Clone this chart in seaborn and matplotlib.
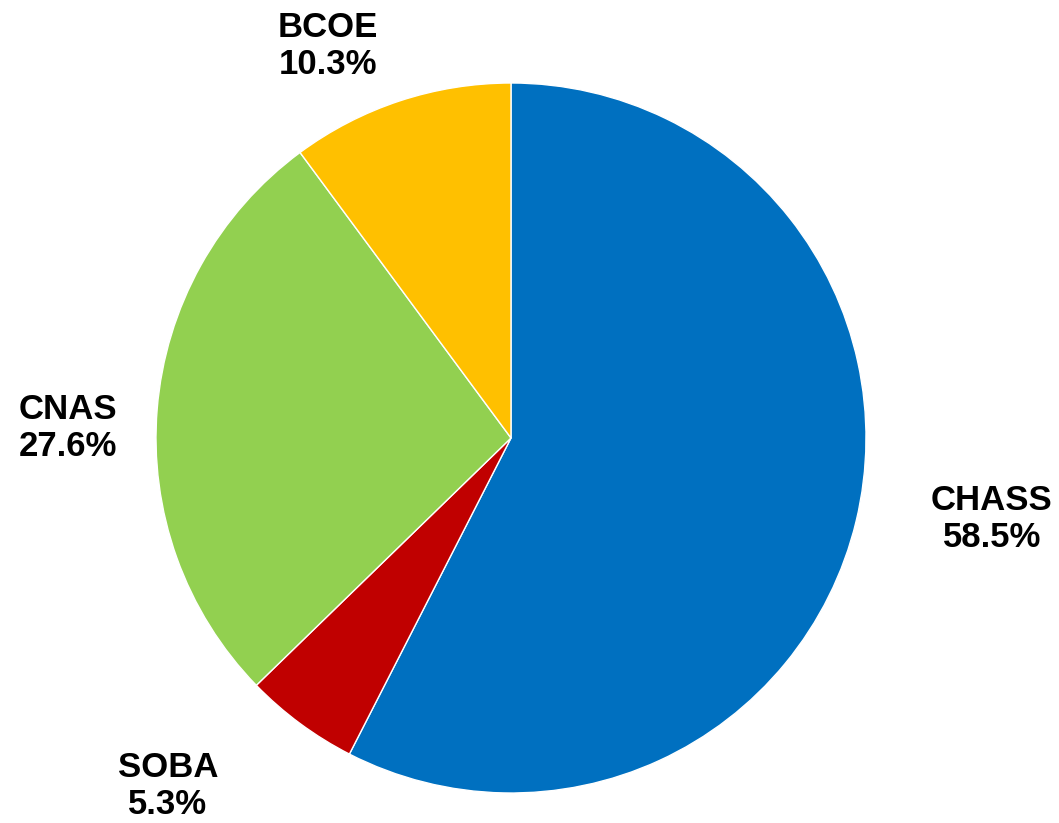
import matplotlib
matplotlib.use("Agg")
import matplotlib.pyplot as plt
import seaborn as sns

categories = ["CHASS", "SOBA", "CNAS", "BCOE"]
values = [58.5, 5.3, 27.6, 10.3]
colors = ["#0070C0", "#C00000", "#92D050", "#FFC000"]

sns.set_theme(style="white")
plt.rcParams['font.family'] = ['Liberation Sans', 'DejaVu Sans']

W, H = 1059, 823
fig = plt.figure(figsize=(W / 100, H / 100), dpi=100)
ax = fig.add_axes([0, 0, 1, 1])

cx, cy, R = 511, 438, 355
wedges, _ = ax.pie(values, colors=colors, startangle=90, counterclock=False,
                   radius=1.0, center=(0, 0),
                   wedgeprops=dict(edgecolor="white", linewidth=1.0))

def px(x, y):
    return ((x - cx) / R, (cy - y) / R)

label_pos = {"CHASS": (992, 519), "SOBA": (168, 786), "CNAS": (68, 428), "BCOE": (328, 46)}
for cat, v in zip(categories, values):
    x, y = px(*label_pos[cat])
    ax.text(x, y, f"{cat}\n{v:.1f}%", ha="center", va="center", fontsize=25,
            fontweight="bold", linespacing=1.15, color="black")

ax.set_xlim((0 - cx) / R, (W - cx) / R)
ax.set_ylim((cy - H) / R, (cy - 0) / R)
ax.set_aspect("equal")
ax.axis("off")
fig.savefig("out.png", dpi=100)
